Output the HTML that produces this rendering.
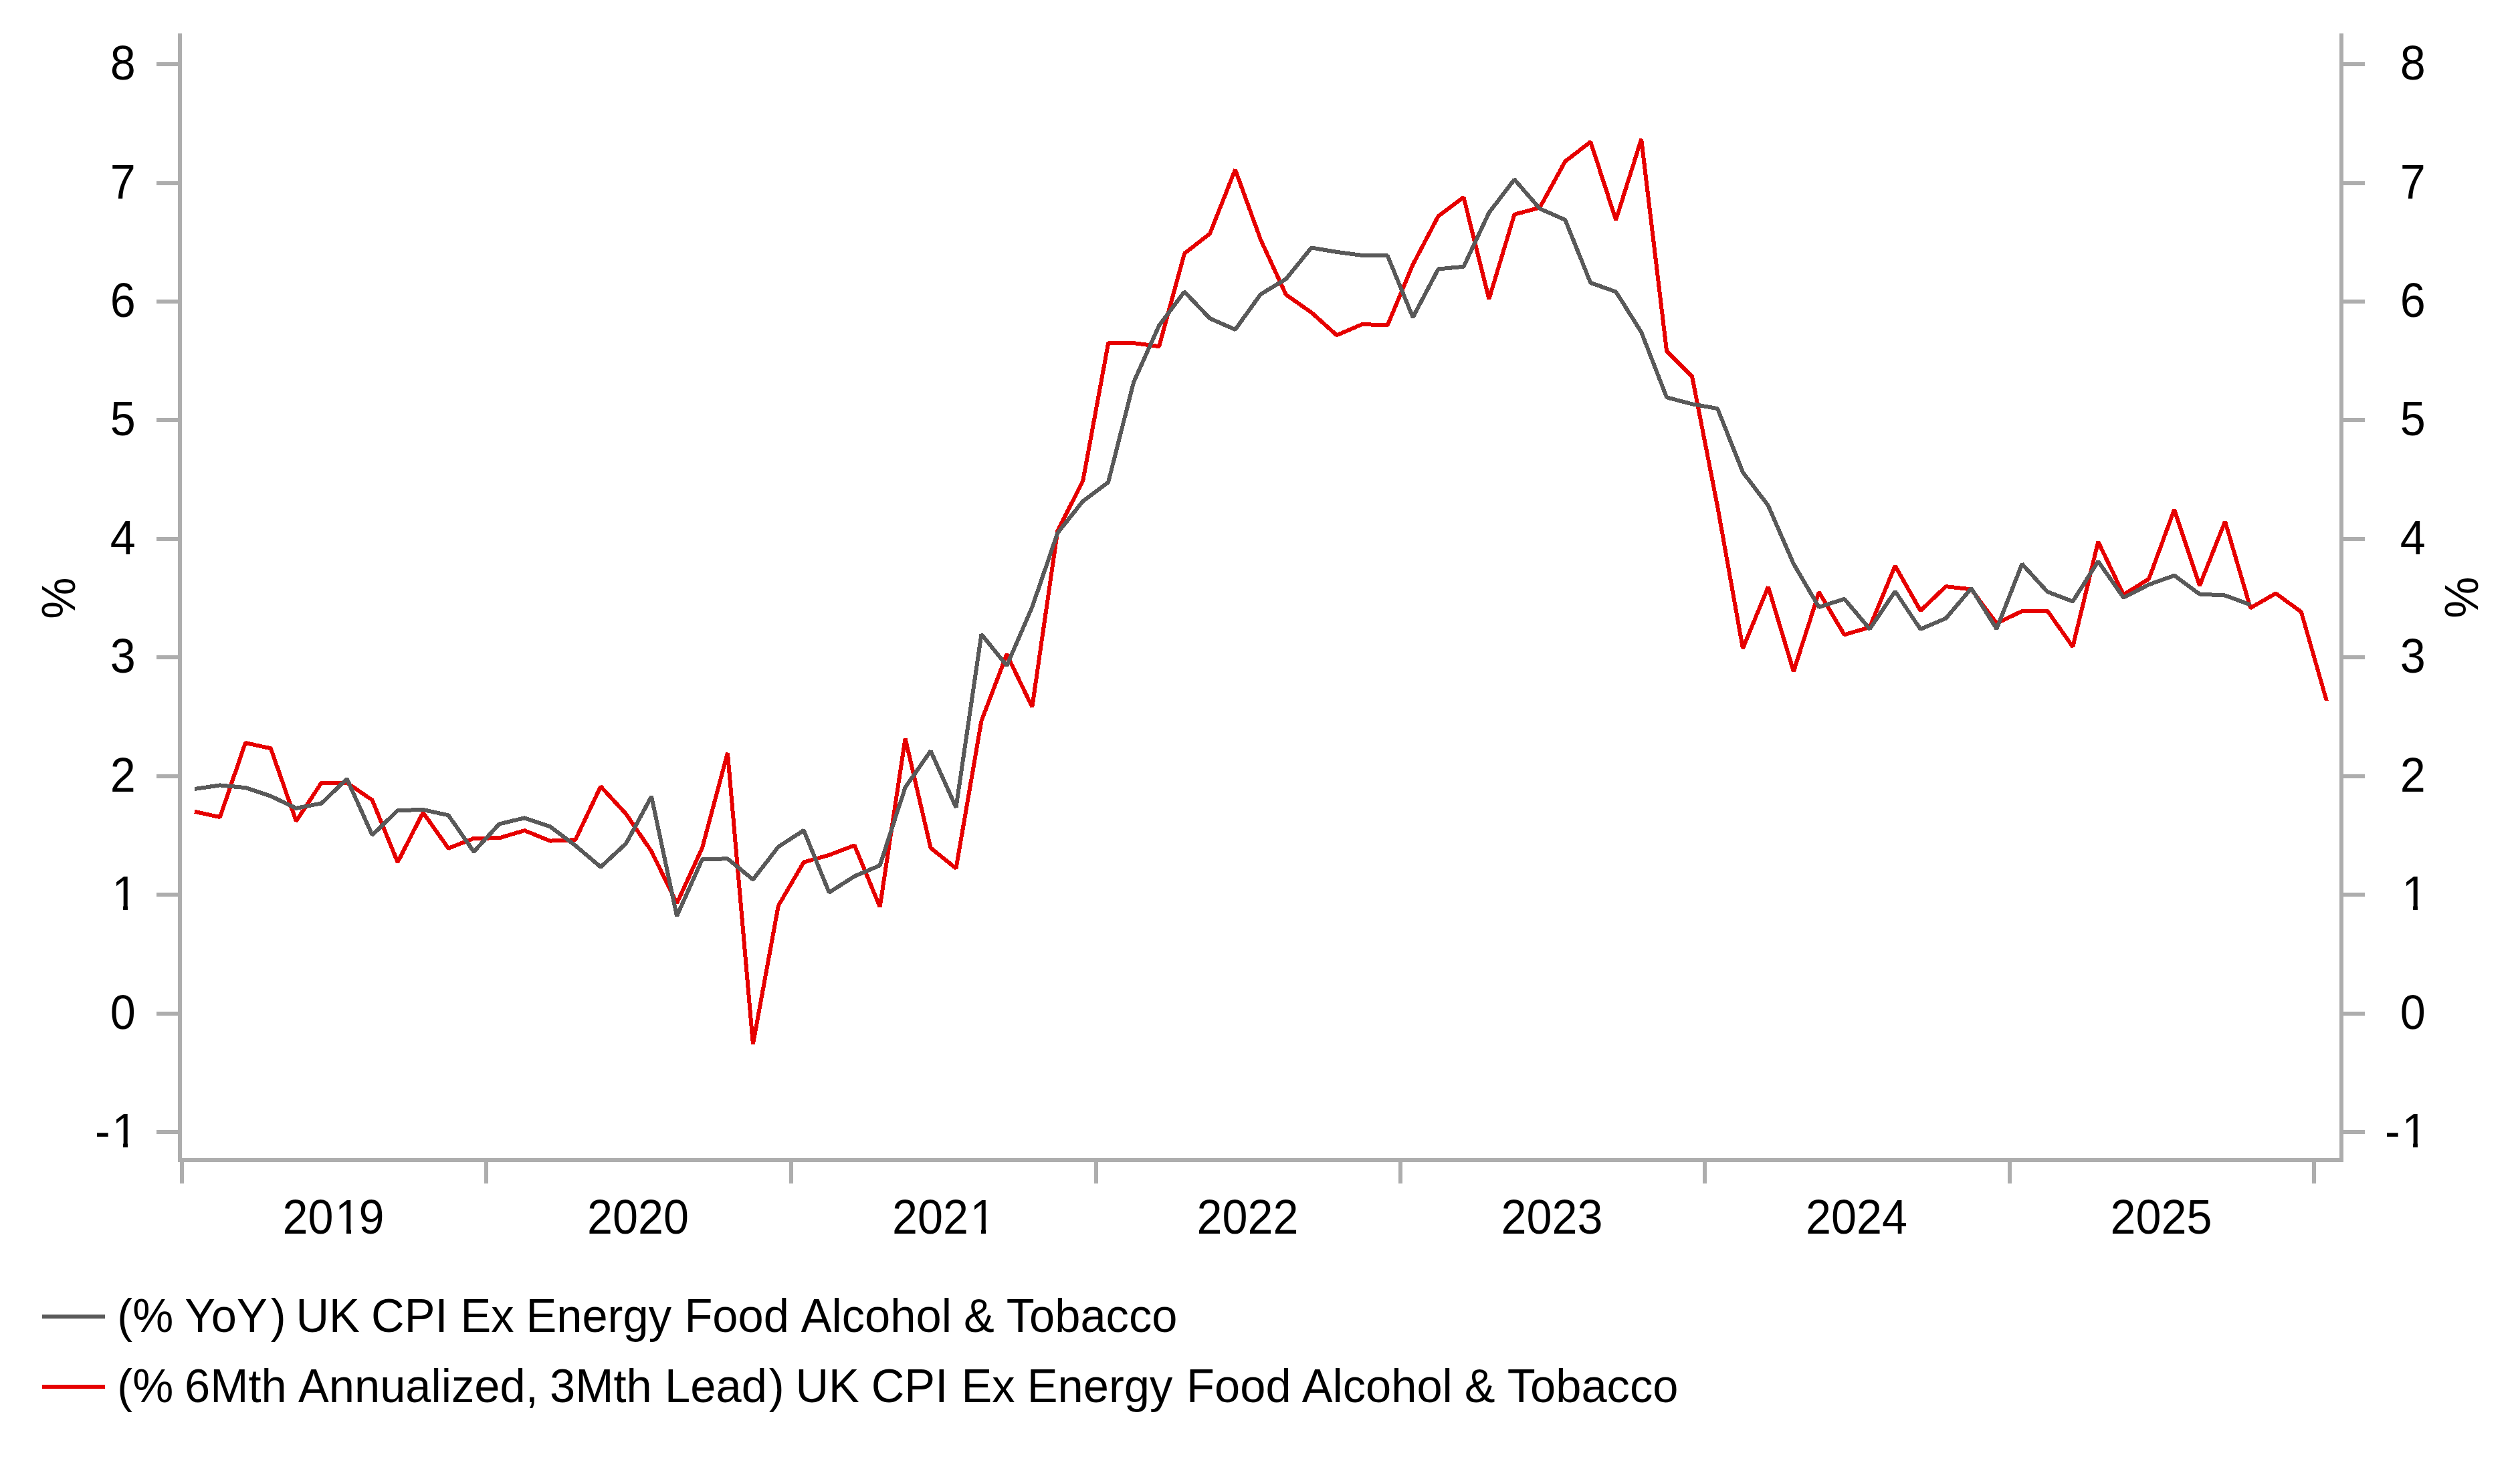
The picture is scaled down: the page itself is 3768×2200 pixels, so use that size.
<!DOCTYPE html>
<html lang="en"><head><meta charset="utf-8"><title>UK CPI Ex Energy Food Alcohol &amp; Tobacco</title>
<style>html,body{margin:0;padding:0;background:#fff}body{width:3768px;height:2200px;overflow:hidden}svg{display:block}text{font-family:"Liberation Sans",sans-serif;font-size:70px;fill:#000}</style></head><body>
<svg width="3768" height="2200" viewBox="0 0 3768 2200">
<rect width="3768" height="2200" fill="#fff"/>
<g fill="#ADADAD" shape-rendering="crispEdges">
<rect x="266" y="50" width="6" height="1688"/>
<rect x="3498" y="50" width="6" height="1688"/>
<rect x="266" y="1732" width="3238" height="6"/>
<rect x="234" y="1690" width="32" height="6"/>
<rect x="3504" y="1690" width="32" height="6"/>
<rect x="234" y="1513" width="32" height="6"/>
<rect x="3504" y="1513" width="32" height="6"/>
<rect x="234" y="1335" width="32" height="6"/>
<rect x="3504" y="1335" width="32" height="6"/>
<rect x="234" y="1158" width="32" height="6"/>
<rect x="3504" y="1158" width="32" height="6"/>
<rect x="234" y="980" width="32" height="6"/>
<rect x="3504" y="980" width="32" height="6"/>
<rect x="234" y="803" width="32" height="6"/>
<rect x="3504" y="803" width="32" height="6"/>
<rect x="234" y="625" width="32" height="6"/>
<rect x="3504" y="625" width="32" height="6"/>
<rect x="234" y="448" width="32" height="6"/>
<rect x="3504" y="448" width="32" height="6"/>
<rect x="234" y="271" width="32" height="6"/>
<rect x="3504" y="271" width="32" height="6"/>
<rect x="234" y="93" width="32" height="6"/>
<rect x="3504" y="93" width="32" height="6"/>
<rect x="269" y="1738" width="6" height="32"/>
<rect x="724" y="1738" width="6" height="32"/>
<rect x="1180" y="1738" width="6" height="32"/>
<rect x="1636" y="1738" width="6" height="32"/>
<rect x="2091" y="1738" width="6" height="32"/>
<rect x="2546" y="1738" width="6" height="32"/>
<rect x="3002" y="1738" width="6" height="32"/>
<rect x="3457" y="1738" width="6" height="32"/>
</g>
<g fill="none" stroke-width="6" stroke-linejoin="bevel" stroke-linecap="butt" shape-rendering="crispEdges">
<clipPath id="rc"><rect x="0" y="0" width="3460" height="2200"/><rect x="3460" y="0" width="308" height="1048"/></clipPath>
<polyline stroke="#E60000" clip-path="url(#rc)" points="291.00,1213.80 328.95,1222.10 366.90,1111.00 404.85,1119.30 442.80,1228.10 480.75,1170.50 518.70,1170.50 556.65,1196.70 594.60,1289.50 632.55,1215.20 670.50,1268.80 708.45,1253.80 746.40,1253.30 784.35,1242.10 822.30,1257.60 860.25,1256.20 898.20,1176.20 936.15,1217.40 974.10,1273.30 1012.05,1351.00 1050.00,1268.10 1087.95,1126.00 1125.90,1561.50 1163.85,1354.50 1201.80,1289.50 1239.75,1278.80 1277.70,1264.30 1315.65,1356.40 1353.60,1104.30 1391.55,1268.10 1429.50,1298.80 1467.45,1078.10 1505.40,978.60 1543.35,1057.40 1581.30,794.30 1619.25,719.00 1657.20,513.10 1695.15,513.10 1733.10,518.10 1771.05,379.00 1809.00,349.50 1846.95,253.60 1884.90,358.30 1922.85,440.70 1960.80,467.30 1998.75,501.40 2036.70,485.00 2074.65,486.40 2112.60,395.70 2150.55,323.30 2188.50,295.00 2226.45,447.20 2264.40,320.70 2302.35,310.50 2340.30,241.40 2378.25,212.10 2416.20,329.00 2454.15,208.10 2492.10,525.20 2530.05,562.90 2568.00,757.00 2605.95,969.80 2643.90,877.60 2681.85,1004.30 2719.80,885.50 2757.75,949.30 2795.70,938.10 2833.65,846.20 2871.60,913.30 2909.55,877.10 2947.50,881.40 2985.45,932.30 3023.40,914.00 3061.35,913.50 3099.30,967.30 3137.25,810.20 3175.20,889.50 3213.15,865.70 3251.10,762.10 3289.05,875.70 3327.00,779.80 3364.95,909.30 3402.90,887.40 3440.85,915.20 3479.94,1052.00"/>
<polyline stroke="#595959" points="291.00,1180.00 328.95,1174.40 366.90,1178.10 404.85,1190.70 442.80,1208.80 480.75,1201.40 518.70,1164.80 556.65,1248.90 594.60,1212.10 632.55,1211.00 670.50,1219.30 708.45,1273.80 746.40,1232.40 784.35,1223.30 822.30,1236.00 860.25,1264.50 898.20,1296.70 936.15,1261.40 974.10,1191.20 1012.05,1370.00 1050.00,1285.20 1087.95,1284.30 1125.90,1315.50 1163.85,1266.40 1201.80,1241.90 1239.75,1334.80 1277.70,1310.50 1315.65,1294.30 1353.60,1177.60 1391.55,1123.10 1429.50,1207.60 1467.45,948.60 1505.40,995.50 1543.35,907.90 1581.30,797.10 1619.25,749.50 1657.20,721.00 1695.15,571.40 1733.10,486.90 1771.05,436.40 1809.00,476.20 1846.95,492.90 1884.90,440.20 1922.85,417.30 1960.80,370.50 1998.75,376.90 2036.70,381.90 2074.65,382.40 2112.60,474.50 2150.55,402.40 2188.50,398.80 2226.45,318.00 2264.40,268.40 2302.35,312.10 2340.30,328.80 2378.25,422.90 2416.20,436.40 2454.15,496.70 2492.10,594.30 2530.05,604.30 2568.00,611.00 2605.95,706.20 2643.90,756.20 2681.85,843.30 2719.80,908.10 2757.75,895.70 2795.70,940.70 2833.65,884.30 2871.60,941.00 2909.55,924.80 2947.50,880.00 2985.45,940.60 3023.40,843.50 3061.35,885.00 3099.30,899.50 3137.25,839.50 3175.20,893.80 3213.15,874.30 3251.10,860.70 3289.05,888.60 3327.00,890.50 3364.95,904.50"/>
</g>
<text transform="translate(142.10,1716.00) scale(0.976,1.0405)">-<tspan dx="2.66">1</tspan></text>
<text transform="translate(3566.10,1716.00) scale(0.976,1.0405)">-<tspan dx="2.66">1</tspan></text>
<text transform="translate(164.85,1539.00) scale(0.976,1.0405)">0</text>
<text transform="translate(3588.85,1539.00) scale(0.976,1.0405)">0</text>
<text transform="translate(164.85,1361.00) scale(0.976,1.0405)"><tspan dx="2.66">1</tspan></text>
<text transform="translate(3588.85,1361.00) scale(0.976,1.0405)"><tspan dx="2.66">1</tspan></text>
<text transform="translate(164.85,1184.00) scale(0.976,1.0405)">2</text>
<text transform="translate(3588.85,1184.00) scale(0.976,1.0405)">2</text>
<text transform="translate(164.85,1006.00) scale(0.976,1.0405)">3</text>
<text transform="translate(3588.85,1006.00) scale(0.976,1.0405)">3</text>
<text transform="translate(164.85,829.00) scale(0.976,1.0405)">4</text>
<text transform="translate(3588.85,829.00) scale(0.976,1.0405)">4</text>
<text transform="translate(164.85,651.00) scale(0.976,1.0405)">5</text>
<text transform="translate(3588.85,651.00) scale(0.976,1.0405)">5</text>
<text transform="translate(164.85,474.00) scale(0.976,1.0405)">6</text>
<text transform="translate(3588.85,474.00) scale(0.976,1.0405)">6</text>
<text transform="translate(164.85,297.00) scale(0.976,1.0405)">7</text>
<text transform="translate(3588.85,297.00) scale(0.976,1.0405)">7</text>
<text transform="translate(164.85,119.00) scale(0.976,1.0405)">8</text>
<text transform="translate(3588.85,119.00) scale(0.976,1.0405)">8</text>
<text transform="translate(422.41,1845.00) scale(0.976,1.0405)">20<tspan dx="2.66">1</tspan><tspan dx="-2.66">9</tspan></text>
<text transform="translate(877.91,1845.00) scale(0.976,1.0405)">2020</text>
<text transform="translate(1333.91,1845.00) scale(0.976,1.0405)">202<tspan dx="2.66">1</tspan></text>
<text transform="translate(1789.41,1845.00) scale(0.976,1.0405)">2022</text>
<text transform="translate(2244.41,1845.00) scale(0.976,1.0405)">2023</text>
<text transform="translate(2699.91,1845.00) scale(0.976,1.0405)">2024</text>
<text transform="translate(3155.41,1845.00) scale(0.976,1.0405)">2025</text>
<g fill="#fff" shape-rendering="crispEdges"><rect x="171.06" y="1709" width="13.13" height="8"/><rect x="191.12" y="1709" width="12.59" height="8"/><rect x="3595.06" y="1709" width="13.13" height="8"/><rect x="3615.12" y="1709" width="12.59" height="8"/><rect x="171.06" y="1354" width="13.13" height="8"/><rect x="191.12" y="1354" width="12.59" height="8"/><rect x="3595.06" y="1354" width="13.13" height="8"/><rect x="3615.12" y="1354" width="12.59" height="8"/><rect x="504.60" y="1838" width="13.13" height="8"/><rect x="524.67" y="1838" width="12.59" height="8"/><rect x="1454.10" y="1838" width="13.13" height="8"/><rect x="1474.16" y="1838" width="12.59" height="8"/></g>
<text text-anchor="middle" transform="translate(112.2,894.5) rotate(-90)">%</text>
<text text-anchor="middle" transform="translate(3705.2,893.5) rotate(-90)">%</text>
<g shape-rendering="crispEdges"><rect x="63" y="1966" width="94" height="6" fill="#595959"/><rect x="63" y="2071" width="94" height="6" fill="#E60000"/></g>
<g transform="scale(0.981,1)">
<text y="1992"><tspan x="178.77">(%</tspan> <tspan x="281.69">YoY</tspan><tspan x="412.55">)</tspan> <tspan x="450.96">UK</tspan> <tspan x="565.83">CPI</tspan> <tspan x="701.75">Ex</tspan> <tspan x="801.65">Energy</tspan> <tspan x="1043.24">Food</tspan> <tspan x="1220.90">Alcohol</tspan> <tspan x="1468.97">&amp;</tspan> <tspan x="1533.88">Tobacco</tspan></text>
<text y="2097"><tspan x="178.77">(%</tspan> <tspan x="281.42">6Mth</tspan> <tspan x="454.64">Annualized,</tspan> <tspan x="837.98">3Mth</tspan> <tspan x="1013.37">Lead</tspan><tspan x="1171.98">)</tspan> <tspan x="1212.43">UK</tspan> <tspan x="1328.01">CPI</tspan> <tspan x="1465.25">Ex</tspan> <tspan x="1565.56">Energy</tspan> <tspan x="1808.48">Food</tspan> <tspan x="1984.40">Alcohol</tspan> <tspan x="2232.17">&amp;</tspan> <tspan x="2297.39">Tobacco</tspan></text>
</g>
</svg></body></html>
